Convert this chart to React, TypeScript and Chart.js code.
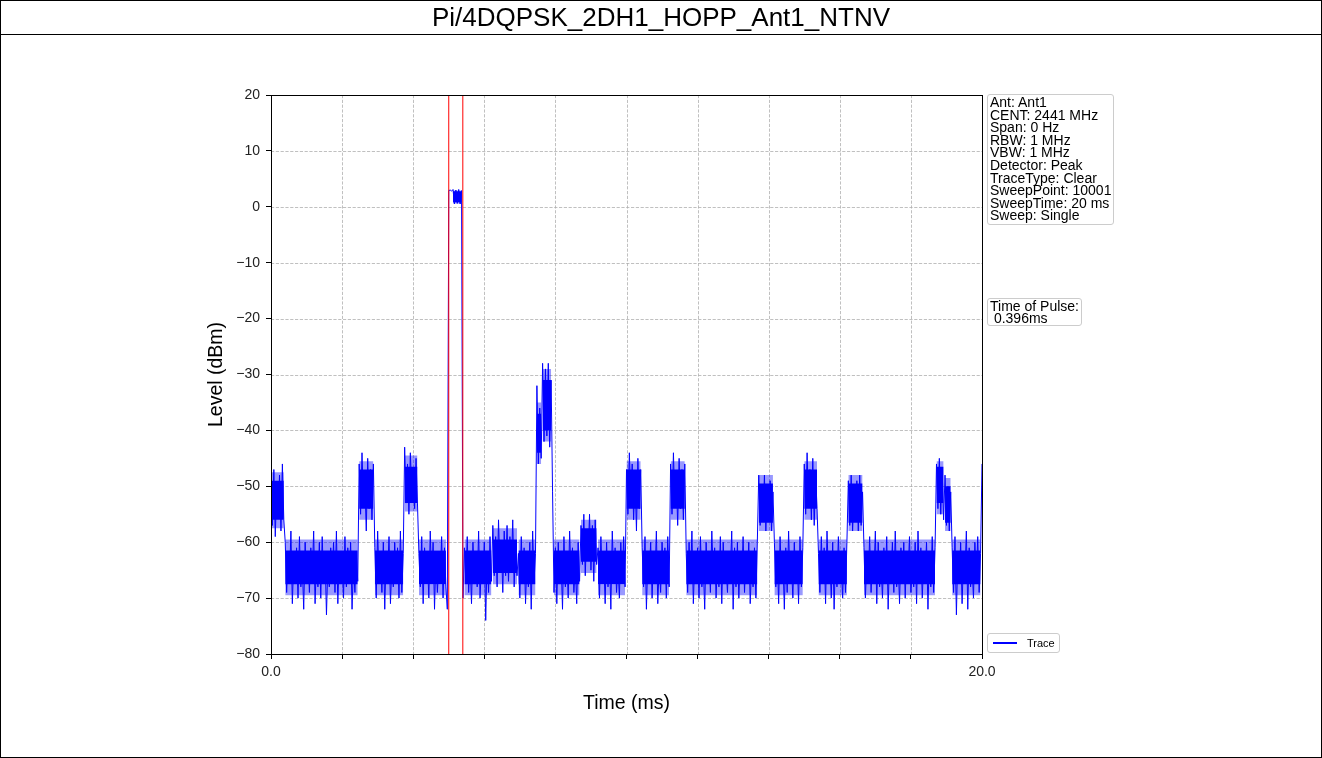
import React, { useEffect, useRef } from 'react';
import { Chart, registerables } from 'chart.js';

Chart.register(...registerables);

const FONT = '"Liberation Sans", Arial, Helvetica, sans-serif';

// ---- chart text ----
const chartTitle = 'Pi/4DQPSK_2DH1_HOPP_Ant1_NTNV';
const xTitle = 'Time (ms)';
const yTitle = 'Level (dBm)';
const infoLines = [
  'Ant: Ant1',
  'CENT: 2441 MHz',
  'Span: 0 Hz',
  'RBW: 1 MHz',
  'VBW: 1 MHz',
  'Detector: Peak',
  'TraceType: Clear',
  'SweepPoint: 10001',
  'SweepTime: 20 ms',
  'Sweep: Single',
];
const pulseLines = ['Time of Pulse:', ' 0.396ms'];
const legendLabel = 'Trace';

// ---- axes ----
const timeRange = [0, 20];
const timeStep = 2;
const timeLabelValues = [0, 20];
const levelRange = [-80, 20];
const levelStep = 10;

// ---- markers (ms) ----
const pulseMarkersMs = [5.0, 5.396];

// ---- trace samples (dBm), one value every 0.04 ms inside each segment ----
const sampleStepMs = 0.04;
const burst1 = [-52, -57, -47, -59, -50, -55, -48, -58, -46, -56];
const gap1 = [
  -60, -69, -62, -67, -58, -71, -63, -66, -61, -70,
  -59, -68, -64, -72, -60, -67, -62, -69, -61, -66,
  -58, -71, -63, -68, -60, -70, -59, -67, -62, -73,
  -64, -68, -61, -66, -60, -69, -58, -71, -62, -67,
  -63, -70, -59, -68, -61, -66, -60, -72, -64, -69,
  -62, -67,
];
const burst2 = [-46, -55, -44, -53, -49, -58, -45, -54, -47, -56, -46];
const gap2 = [
  -61, -70, -58, -67, -63, -69, -60, -72, -62, -66,
  -59, -71, -64, -68, -60, -67, -61, -70, -58, -69, -62,
];
const burst3 = [-43, -53, -46, -55, -44, -51, -47, -54, -45, -53];
const gap3 = [
  -62, -68, -59, -71, -61, -66, -63, -70, -58, -67,
  -60, -72, -62, -69, -64, -67, -59, -70, -61, -68, -72,
];
const pulse = [2.9, 3.0, 2.8, 3.1, 0.5, 3.0, 0.6, 3.1, 0.5, 2.9];
const gap4 = [
  -70, -61, -67, -59, -69, -63, -71, -60, -66, -62,
  -68, -58, -70, -64, -67, -60, -74, -62, -69, -59,
  -67,
  -57, -66, -59, -68, -56, -65, -60, -69, -58, -66,
  -57, -67, -59, -65, -56, -68, -60, -66,
  -62, -70, -59, -67, -61, -71, -63, -68, -60, -72,
  -58, -67, -62,
];
const burst4 = [-32, -46, -36, -45, -28, -42, -29, -41, -28, -43, -31];
const gap5 = [
  -51,
  -69, -61, -71, -60, -67, -63, -72, -59, -68, -62,
  -70, -58, -66, -61, -69, -64, -71, -60, -67,
  -57, -64, -55, -66, -58, -63, -55, -65, -57, -67, -56, -64,
  -61, -70, -59, -67, -63, -71, -60, -68, -62, -72,
  -58, -66, -61, -69, -64, -70, -60, -67, -59, -68,
];
const burst5 = [-47, -55, -44, -52, -46, -56, -48, -58, -45, -54, -47];
const gap6 = [
  -61, -68, -59, -72, -63, -66, -60, -70, -62, -67,
  -58, -71, -64, -69, -60, -66, -61, -70, -59, -68,
];
const burst6 = [-46, -55, -44, -53, -48, -57, -45, -54, -47, -56, -46];
const gap7 = [
  -62, -69, -60, -67, -58, -71, -63, -66, -61, -70,
  -59, -68, -64, -72, -60, -67, -62, -69, -58, -66,
  -61, -70, -63, -68, -59, -71, -60, -67, -64, -69,
  -62, -66, -58, -72, -61, -68, -60, -70, -63, -67,
  -59, -69, -62, -66, -60, -71, -64, -68, -61, -70,
  -60,
];
const burst7 = [-48, -57, -51, -56, -48, -58, -50, -55, -49, -58, -51];
const gap8 = [
  -60, -68, -62, -71, -59, -66, -63, -72, -61, -69,
  -58, -67, -64, -70, -60, -66, -62, -71, -59, -68, -61,
];
const burst8 = [-46, -55, -44, -53, -47, -56, -45, -57, -48, -54];
const gap9 = [
  -62, -69, -59, -67, -61, -71, -58, -66, -63, -70,
  -60, -72, -62, -68, -59, -67, -64, -70, -61, -69, -60,
];
const burst9 = [-49, -57, -48, -58, -51, -56, -49, -58, -48, -57, -51];
const gap10 = [
  -61, -70, -63, -67, -59, -69, -62, -66, -58, -71,
  -60, -68, -64, -70, -61, -67, -59, -72, -62, -66,
  -60, -69, -58, -68, -63, -71, -61, -67, -60, -70,
  -62, -66, -59, -69, -64, -68, -60, -71, -58, -67,
  -61, -70, -63, -66, -60, -72, -62, -68, -59, -69,
  -61,
];
const burst10 = [-46, -54, -45, -55, -47, -56, -48, -57, -50, -58, -51];
const gap11 = [
  -61, -69, -59, -73, -62, -67, -60, -71, -63, -66,
  -58, -72, -61, -68, -64, -70, -60, -67, -59, -69, -62,
];
const tail = [-46];

// segment start times (ms)
const segmentStartsMs = [
  0.0, 0.4, 2.48, 2.92, 3.76, 4.16, 5.0, 5.4, 7.48, 7.92, 10.0, 10.44,
  11.24, 11.68, 13.72, 14.16, 15.0, 15.4, 16.24, 16.68, 18.72, 19.16, 20.0,
];
const segmentValues = [
  burst1, gap1, burst2, gap2, burst3, gap3, pulse, gap4, burst4, gap5, burst5, gap6,
  burst6, gap7, burst7, gap8, burst8, gap9, burst9, gap10, burst10, gap11, tail,
];

// ---- dense part of the trace (where the 10001 sweep points overlap), dBm ----
const coreStartMs = [
  0.0, 0.4, 2.48, 2.92, 3.76, 4.16, 5.12, 5.44, 6.24, 6.96, 7.48, 7.64, 7.96, 8.72, 9.2,
  10.0, 10.44, 11.24, 11.68, 13.72, 14.16, 15.0, 15.4, 16.24, 16.68, 18.72, 18.96, 19.16,
];
const coreEndMs = [
  0.36, 2.44, 2.88, 3.72, 4.12, 4.92, 5.36, 6.2, 6.92, 7.44, 7.6, 7.88, 8.68, 9.16, 9.96,
  10.4, 11.2, 11.64, 13.68, 14.12, 14.96, 15.36, 16.2, 16.64, 18.68, 18.92, 19.12, 19.96,
];
// solid centre
const coreTop = [
  -49, -61.5, -47, -61.5, -46.5, -61.5, 2.8, -61.5, -59.5, -61.5, -37, -31, -61.5, -57.5, -61.5,
  -47, -61.5, -47, -61.5, -49.5, -61.5, -47, -61.5, -49.5, -61.5, -46.5, -50, -61.5,
];
const coreBottom = [
  -56, -67.5, -54, -67.5, -53, -67.5, 0.8, -67.5, -65.5, -67.5, -44, -40, -67.5, -63.5, -67.5,
  -54, -67.5, -54, -67.5, -56.5, -67.5, -54, -67.5, -56.5, -67.5, -53, -56.5, -67.5,
];
// thinner fringe around it
const fringeTop = [
  -47.5, -59.5, -45.5, -59.5, -44.5, -59.5, 2.9, -59.5, -57.5, -59.5, -35, -29, -59.5, -56, -59.5,
  -45.5, -59.5, -45.5, -59.5, -48, -59.5, -45.5, -59.5, -48, -59.5, -45.5, -48.5, -59.5,
];
const fringeBottom = [
  -57.5, -69.5, -56, -69.5, -54.5, -69.5, 0.6, -69.5, -67.5, -69.5, -46, -42, -69.5, -65.5, -69.5,
  -56, -69.5, -56, -69.5, -58, -69.5, -56, -69.5, -58, -69.5, -55, -58, -69.5,
];

function buildTrace() {
  const pts: { x: number; y: number }[] = [];
  segmentValues.forEach((vals, k) => {
    const start = segmentStartsMs[k];
    vals.forEach((v, i) => {
      pts.push({ x: +(start + i * sampleStepMs).toFixed(4), y: v });
    });
  });
  return pts;
}

function buildBand(levels: number[]) {
  const pts: { x: number; y: number | null }[] = [];
  coreStartMs.forEach((s, k) => {
    if (k > 0) pts.push({ x: (coreEndMs[k - 1] + s) / 2, y: null });
    pts.push({ x: s, y: levels[k] });
    pts.push({ x: coreEndMs[k], y: levels[k] });
  });
  return pts;
}

function bandPair(top: number[], bottom: number[], color: string, name: string) {
  return [
    {
      label: name + ' top',
      data: buildBand(top),
      borderWidth: 0,
      borderColor: 'rgba(0,0,255,0)',
      backgroundColor: color,
      pointRadius: 0,
      spanGaps: false,
      fill: '+1',
    },
    {
      label: name + ' bottom',
      data: buildBand(bottom),
      borderWidth: 0,
      borderColor: 'rgba(0,0,255,0)',
      pointRadius: 0,
      spanGaps: false,
      fill: false,
    },
  ];
}

const fmtLevel = (v: number) => (v < 0 ? '\u2212' + Math.abs(v) : String(v));

const gridAndFrame = {
  id: 'gridAndFrame',
  beforeDatasetsDraw(chart: any) {
    const { ctx, chartArea } = chart;
    const xs = chart.scales.x;
    const ys = chart.scales.y;
    ctx.save();
    ctx.strokeStyle = '#b0b0b0';
    ctx.lineWidth = 0.8;
    ctx.setLineDash([3.2, 1.6]);
    xs.ticks.forEach((t: any) => {
      const px = Math.round(xs.getPixelForValue(t.value)) + 0.5;
      ctx.beginPath();
      ctx.moveTo(px, chartArea.top);
      ctx.lineTo(px, chartArea.bottom);
      ctx.stroke();
    });
    ys.ticks.forEach((t: any) => {
      const py = Math.round(ys.getPixelForValue(t.value)) + 0.5;
      ctx.beginPath();
      ctx.moveTo(chartArea.left, py);
      ctx.lineTo(chartArea.right, py);
      ctx.stroke();
    });
    ctx.restore();
  },
  afterDatasetsDraw(chart: any) {
    const { ctx, chartArea } = chart;
    ctx.save();
    ctx.strokeStyle = '#000';
    ctx.lineWidth = 1;
    ctx.setLineDash([]);
    const l = Math.round(chartArea.left) + 0.5;
    const t = Math.round(chartArea.top) + 0.5;
    const r = Math.round(chartArea.right) + 0.5;
    const b = Math.round(chartArea.bottom) + 0.5;
    ctx.strokeRect(l, t, r - l, b - t);
    ctx.restore();
  },
};

export default function App() {
  const ref = useRef<HTMLCanvasElement>(null);

  useEffect(() => {
    document.body.style.margin = '0';
    const trace = buildTrace();
    const markerSets = pulseMarkersMs.map((m) => ({
      label: 'marker',
      data: [
        { x: m, y: levelRange[0] },
        { x: m, y: levelRange[1] },
      ],
      borderColor: '#ff0000',
      borderWidth: 1,
      pointRadius: 0,
    }));
    const chart = new Chart(ref.current as HTMLCanvasElement, {
      type: 'line',
      data: {
        datasets: [
          ...markerSets,
          {
            label: legendLabel,
            data: trace,
            borderColor: '#0000ff',
            borderWidth: 1,
            pointRadius: 0,
            tension: 0,
          },
          ...bandPair(coreTop, coreBottom, '#0000ff', 'core'),
          ...bandPair(fringeTop, fringeBottom, 'rgba(0,0,255,0.4)', 'fringe'),
        ],
      },
      options: {
        responsive: false,
        animation: false,
        events: [],
        layout: { padding: { left: 205, right: 340, top: 95, bottom: 43 } },
        plugins: {
          legend: { display: false },
          tooltip: { enabled: false },
          title: { display: false },
        },
        scales: {
          x: {
            type: 'linear',
            min: timeRange[0],
            max: timeRange[1],
            border: { display: false },
            grid: { drawOnChartArea: false, tickLength: 5, tickColor: '#000', tickWidth: 1 },
            ticks: {
              stepSize: timeStep,
              autoSkip: false,
              maxRotation: 0,
              padding: 5,
              color: '#222',
              font: { size: 14, family: FONT },
              callback: (v: any) => (timeLabelValues.includes(Number(v)) ? Number(v).toFixed(1) : ''),
            },
            title: {
              display: true,
              text: xTitle,
              color: '#000',
              padding: 0,
              font: { size: 19.5, family: FONT },
            },
            afterFit: (s: any) => {
              s.height = 61;
            },
          },
          y: {
            type: 'linear',
            min: levelRange[0],
            max: levelRange[1],
            border: { display: false },
            grid: { drawOnChartArea: false, tickLength: 5, tickColor: '#000', tickWidth: 1 },
            ticks: {
              stepSize: levelStep,
              padding: 6,
              color: '#222',
              font: { size: 14, family: FONT },
              callback: (v: any) => fmtLevel(Number(v)),
            },
            title: {
              display: true,
              text: yTitle,
              color: '#000',
              padding: 0,
              font: { size: 19.5, family: FONT },
            },
            afterFit: (s: any) => {
              s.width = 66;
            },
          },
        },
      },
      plugins: [gridAndFrame],
    } as any);
    return () => chart.destroy();
  }, []);

  const boxStyle: React.CSSProperties = {
    position: 'absolute',
    boxSizing: 'border-box',
    border: '1px solid #cccccc',
    borderRadius: 3,
    background: 'rgba(255,255,255,0.85)',
    fontFamily: FONT,
    color: '#000',
    whiteSpace: 'pre',
  };

  return (
    <div
      style={{
        position: 'relative',
        width: 1322,
        height: 758,
        background: '#fff',
        overflow: 'hidden',
        fontFamily: FONT,
      }}
    >
      <canvas
        ref={ref}
        width={1322}
        height={758}
        style={{ position: 'absolute', left: 0, top: 0, width: 1322, height: 758 }}
      />
      <div
        style={{
          position: 'absolute',
          left: 0,
          top: 0,
          width: 1322,
          height: 35,
          lineHeight: '35px',
          textAlign: 'center',
          fontSize: 26,
          color: '#000',
        }}
      >
        {chartTitle}
      </div>
      <div style={{ position: 'absolute', left: 0, top: 34, width: 1322, height: 1, background: '#000' }} />
      <div
        style={{
          position: 'absolute',
          left: 0,
          top: 0,
          width: 1322,
          height: 758,
          boxSizing: 'border-box',
          border: '1px solid #000',
          pointerEvents: 'none',
        }}
      />
      <div
        style={{
          ...boxStyle,
          left: 987,
          top: 94,
          width: 127,
          height: 131,
          padding: '1px 0 0 2px',
          fontSize: 14,
          lineHeight: '12.6px',
        }}
      >
        {infoLines.map((l) => (
          <div key={l}>{l}</div>
        ))}
      </div>
      <div
        style={{
          ...boxStyle,
          left: 987,
          top: 298,
          width: 95,
          height: 28,
          padding: '1px 0 0 2px',
          fontSize: 14,
          lineHeight: '12px',
        }}
      >
        {pulseLines.map((l) => (
          <div key={l}>{l}</div>
        ))}
      </div>
      <div style={{ ...boxStyle, left: 987, top: 633, width: 73, height: 20, fontSize: 11 }}>
        <div
          style={{ position: 'absolute', left: 5, top: 8, width: 24, height: 2, background: '#0000ff' }}
        />
        <div style={{ position: 'absolute', left: 39, top: 0, lineHeight: '18px' }}>{legendLabel}</div>
      </div>
    </div>
  );
}
